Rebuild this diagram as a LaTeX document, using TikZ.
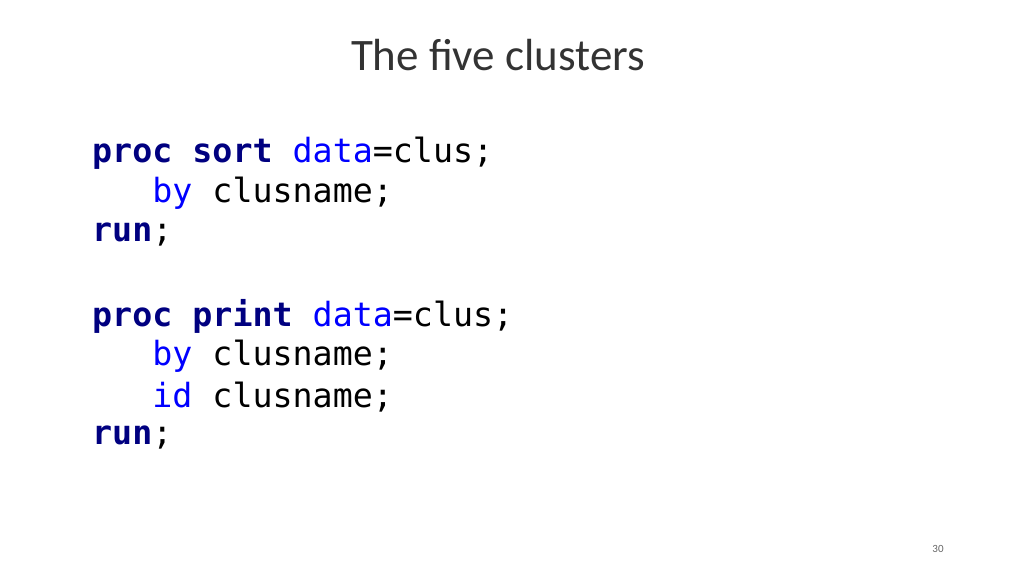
\documentclass[tikz,border=0pt]{standalone}
\usepackage{fontspec}
\setmainfont{Carlito}
\setmonofont{DejaVu Sans Mono}
\definecolor{kwnavy}{RGB}{0,0,128}
\definecolor{opblue}{RGB}{0,0,255}
\newcommand{\kwd}[1]{\textcolor{kwnavy}{\textbf{#1}}}
\newcommand{\opt}[1]{\textcolor{opblue}{#1}}
\tikzset{codeline/.style={anchor=west,inner sep=0pt,font=\ttfamily\fontsize{33.3}{33.3}\selectfont}}
\begin{document}
\begin{tikzpicture}[x=1pt,y=1pt]
\useasboundingbox (0,0) rectangle (1024,576);
\node[font=\fontsize{45}{45}\selectfont,color=black!80] (title) at (498,521) {The five clusters};
\node[codeline] (l1) at (92,423) {\kwd{proc sort} \opt{data}=clus;};
\node[codeline] (l2) at (92,383) {\phantom{run}\opt{by} clusname;};
\node[codeline] (l3) at (92,341) {\kwd{run};};
\node[codeline] (l4) at (92,260) {\kwd{proc print} \opt{data}=clus;};
\node[codeline] (l5) at (92,220) {\phantom{run}\opt{by} clusname;};
\node[codeline] (l6) at (92,179) {\phantom{run}\opt{id} clusname;};
\node[codeline] (l7) at (92,138) {\kwd{run};};
\node[font=\fontsize{11}{11}\selectfont,color=black!60] (page) at (938,27) {30};
\end{tikzpicture}
\end{document}
